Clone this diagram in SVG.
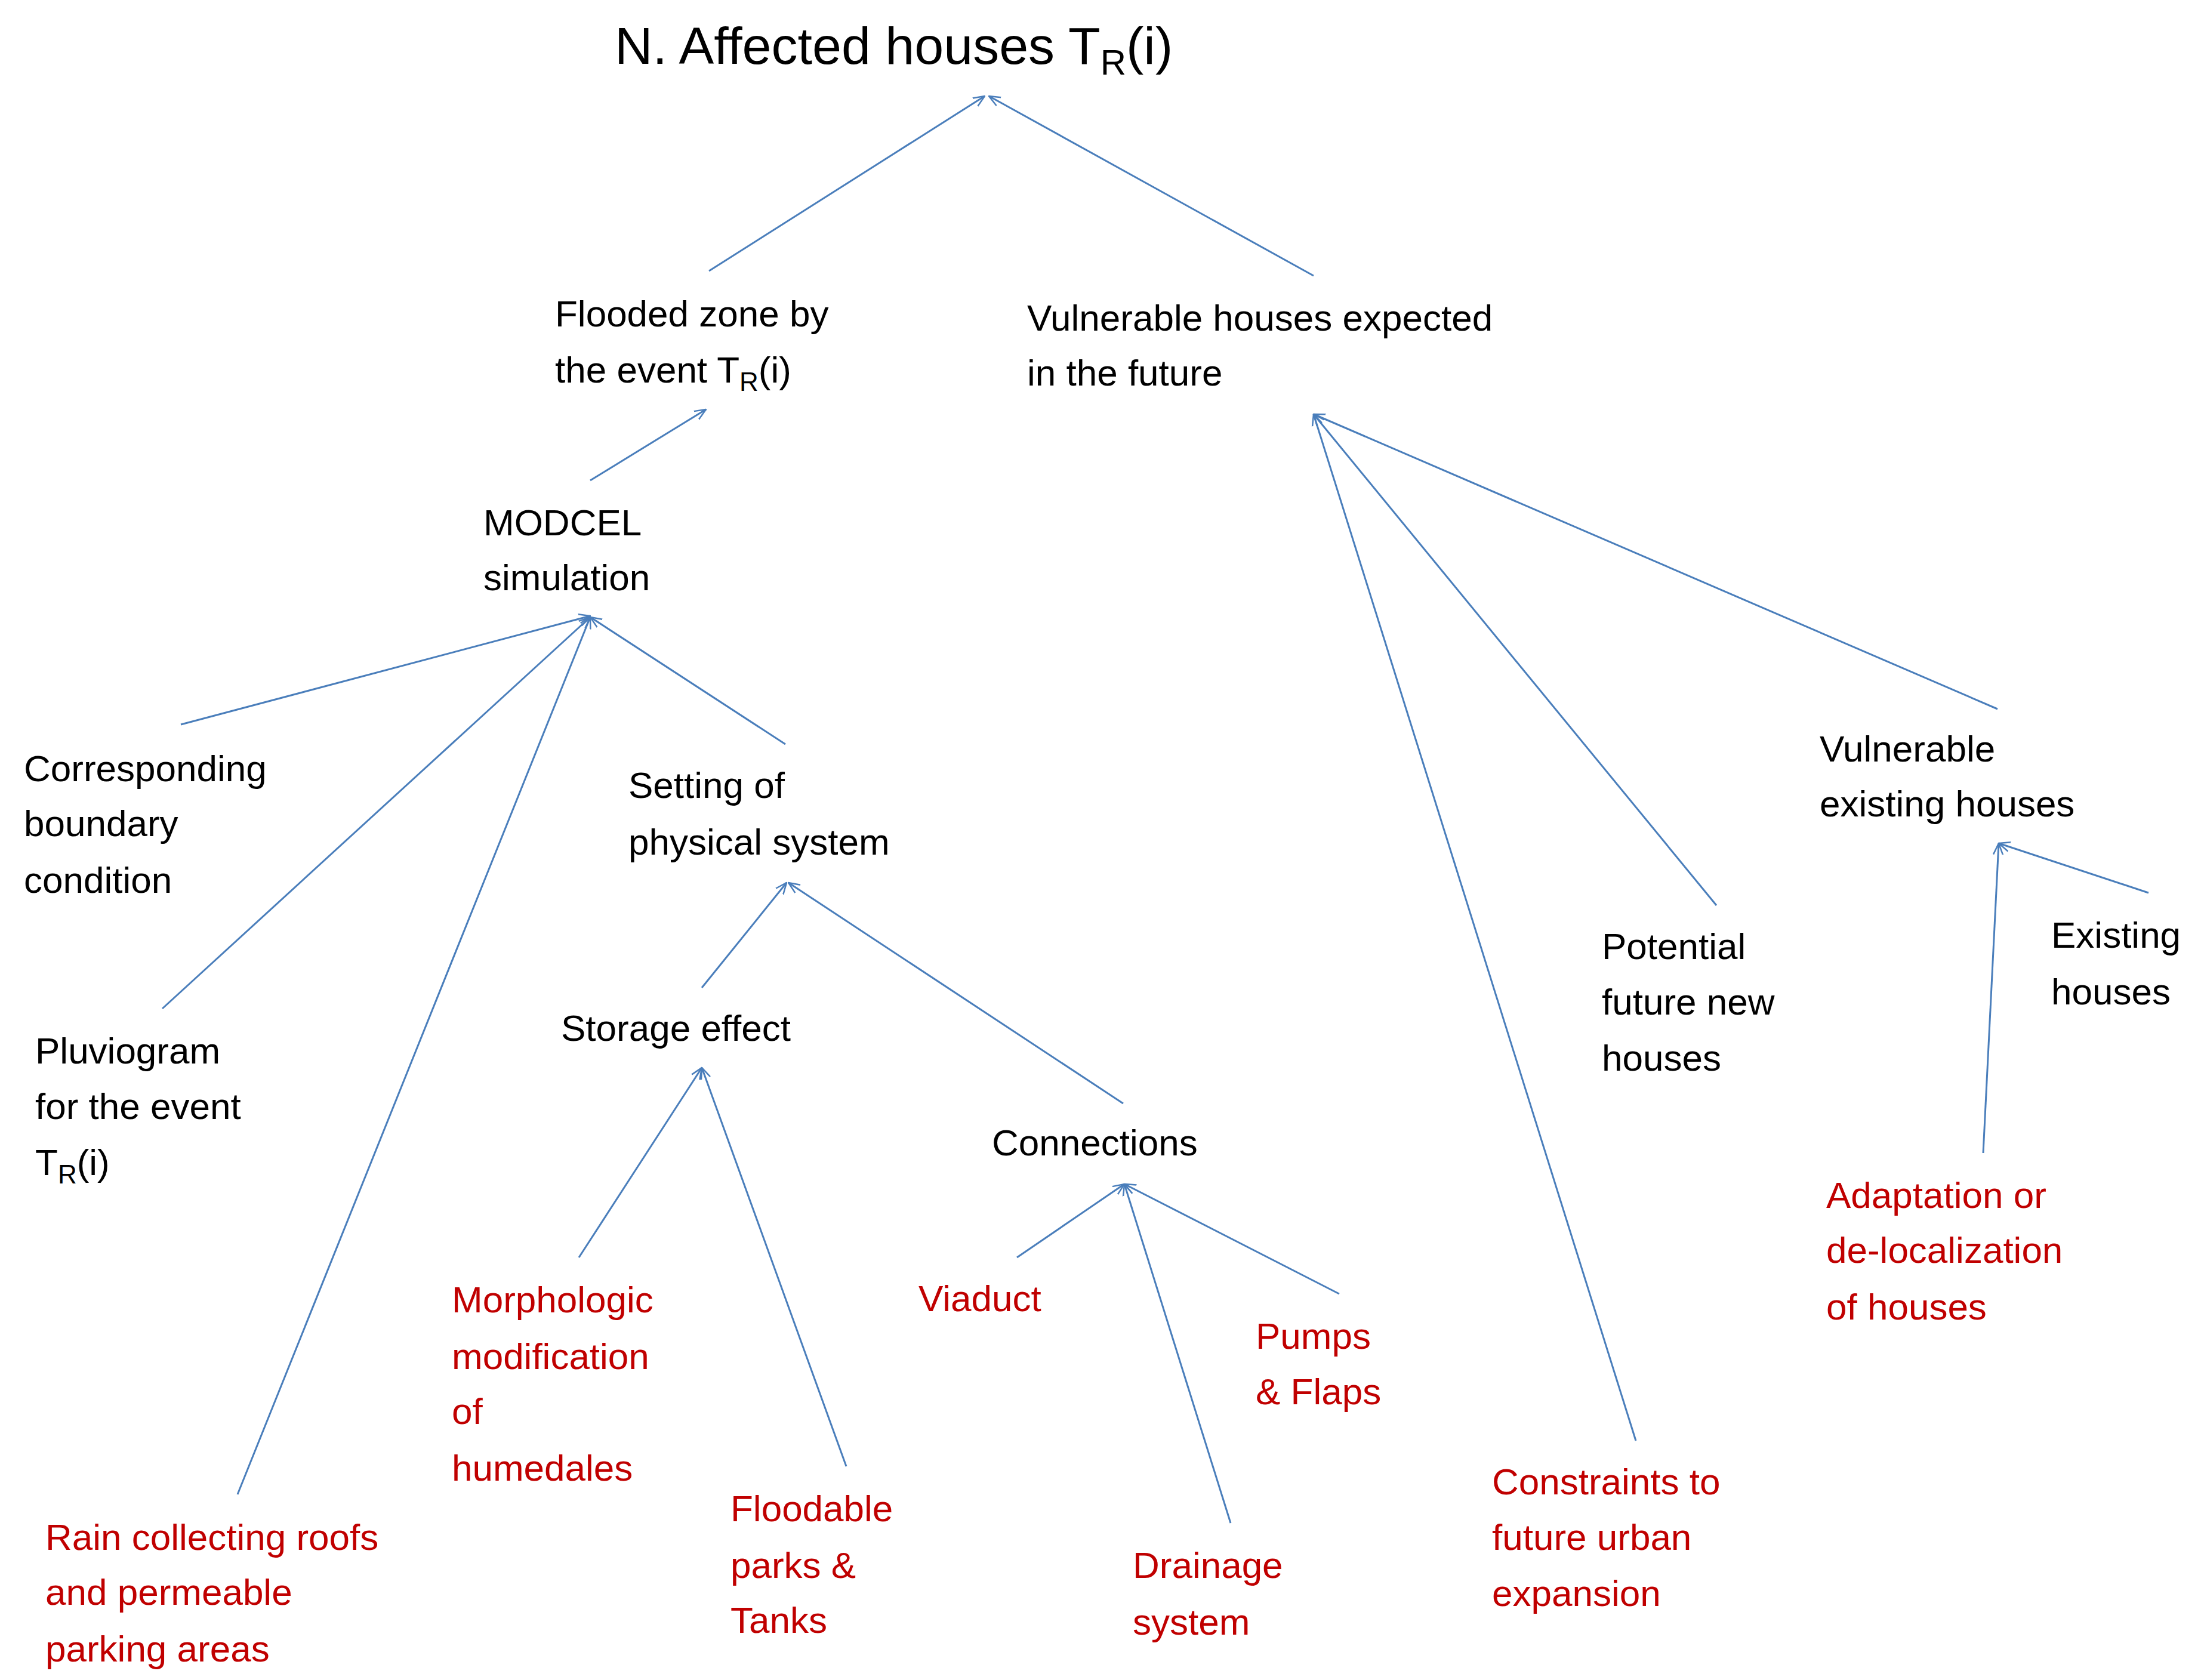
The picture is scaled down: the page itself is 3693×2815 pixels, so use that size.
<svg xmlns="http://www.w3.org/2000/svg" width="3693" height="2815" viewBox="0 0 3693 2815">
<style>
text{font-family:"Liberation Sans","DejaVu Sans",sans-serif;font-size:62px;fill:#000}
.r{fill:#c00000}
.t{font-size:88px}
.s{font-size:44px}
#conn line{stroke:#4a7ebb;stroke-width:3;marker-end:url(#a)}
</style>
<defs><marker id="a" viewBox="0 0 20 20" refX="19" refY="10" markerWidth="20" markerHeight="20" markerUnits="userSpaceOnUse" orient="auto"><path d="M0 2 L19 10 L0 18" fill="none" stroke="#4a7ebb" stroke-width="2.5"/></marker></defs>
<rect width="3693" height="2815" fill="#fff"/>
<g id="conn">
<line x1="1188" y1="454" x2="1650" y2="161"/>
<line x1="2201" y1="462" x2="1657" y2="161"/>
<line x1="989" y1="805" x2="1183" y2="686"/>
<line x1="303" y1="1214" x2="989" y2="1032"/>
<line x1="272" y1="1690" x2="989" y2="1034"/>
<line x1="398" y1="2504" x2="989" y2="1034"/>
<line x1="1316" y1="1247" x2="989" y2="1034"/>
<line x1="1176" y1="1655" x2="1318" y2="1479"/>
<line x1="1882" y1="1849" x2="1321" y2="1479"/>
<line x1="970" y1="2107" x2="1176" y2="1789"/>
<line x1="1418" y1="2457" x2="1176" y2="1789"/>
<line x1="1704" y1="2107" x2="1884" y2="1984"/>
<line x1="2062" y1="2552" x2="1884" y2="1984"/>
<line x1="2244" y1="2168" x2="1884" y2="1984"/>
<line x1="2741" y1="2414" x2="2201" y2="694"/>
<line x1="2876" y1="1517" x2="2201" y2="694"/>
<line x1="3347" y1="1188" x2="2201" y2="694"/>
<line x1="3323" y1="1932" x2="3349" y2="1413"/>
<line x1="3600" y1="1496" x2="3349" y2="1413"/>
</g>
<g id="title"><text class="t" x="1030" y="107">N. Affected houses T<tspan class="s" dy="18" style="font-size:60px">R</tspan><tspan dy="-18">(i)</tspan></text></g>
<g id="flooded"><text x="930" y="547">Flooded zone by</text><text x="930" y="641">the event T<tspan class="s" dy="14">R</tspan><tspan dy="-14">(i)</tspan></text></g>
<g id="vulnfuture"><text x="1721" y="554">Vulnerable houses expected</text><text x="1721" y="646">in the future</text></g>
<g id="modcel"><text x="810" y="897">MODCEL</text><text x="810" y="989">simulation</text></g>
<g id="boundary"><text x="40" y="1309">Corresponding</text><text x="40" y="1401">boundary</text><text x="40" y="1496">condition</text></g>
<g id="setting"><text x="1053" y="1337">Setting of</text><text x="1053" y="1432">physical system</text></g>
<g id="vulnexist"><text x="3049" y="1276">Vulnerable</text><text x="3049" y="1368">existing houses</text></g>
<g id="existing"><text x="3437" y="1588">Existing</text><text x="3437" y="1683">houses</text></g>
<g id="potential"><text x="2684" y="1607">Potential</text><text x="2684" y="1700">future new</text><text x="2684" y="1794">houses</text></g>
<g id="storage"><text x="940" y="1744">Storage effect</text></g>
<g id="pluvio"><text x="59" y="1782">Pluviogram</text><text x="59" y="1875">for the event</text><text x="59" y="1969">T<tspan class="s" dy="14">R</tspan><tspan dy="-14">(i)</tspan></text></g>
<g id="connections"><text x="1662" y="1936">Connections</text></g>
<g id="adapt"><text class="r" x="3060" y="2024">Adaptation or</text><text class="r" x="3060" y="2116">de-localization</text><text class="r" x="3060" y="2211">of houses</text></g>
<g id="viaduct"><text class="r" x="1539" y="2197">Viaduct</text></g>
<g id="morph"><text class="r" x="757" y="2199">Morphologic</text><text class="r" x="757" y="2294">modification</text><text class="r" x="757" y="2386">of</text><text class="r" x="757" y="2481">humedales</text></g>
<g id="pumps"><text class="r" x="2104" y="2260">Pumps</text><text class="r" x="2104" y="2353">&amp; Flaps</text></g>
<g id="constraints"><text class="r" x="2500" y="2504">Constraints to</text><text class="r" x="2500" y="2597">future urban</text><text class="r" x="2500" y="2691">expansion</text></g>
<g id="floodable"><text class="r" x="1224" y="2549">Floodable</text><text class="r" x="1224" y="2644">parks &amp;</text><text class="r" x="1224" y="2736">Tanks</text></g>
<g id="rain"><text class="r" x="76" y="2597">Rain collecting roofs</text><text class="r" x="76" y="2689">and permeable</text><text class="r" x="76" y="2784">parking areas</text></g>
<g id="drainage"><text class="r" x="1898" y="2644">Drainage</text><text class="r" x="1898" y="2739">system</text></g>
</svg>
